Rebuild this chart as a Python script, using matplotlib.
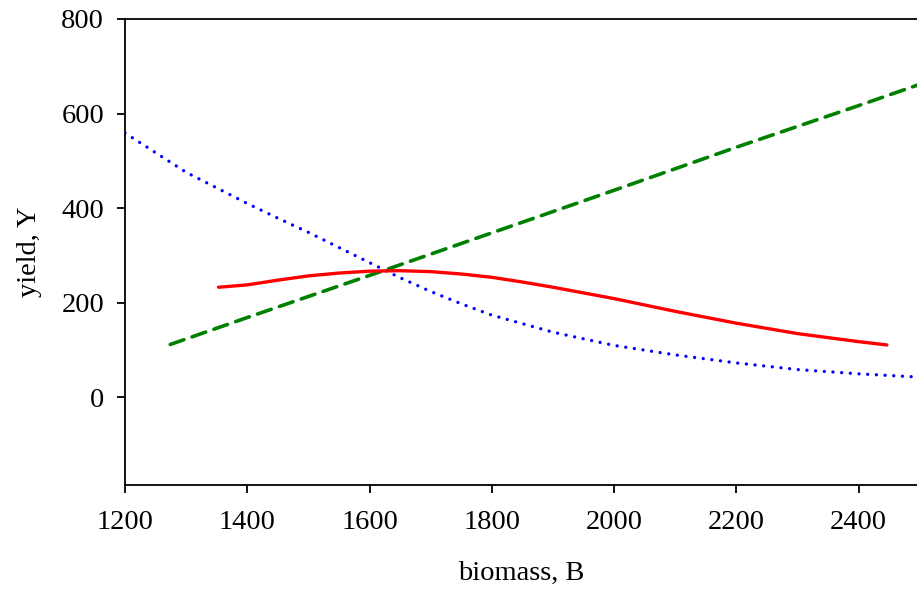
import matplotlib
matplotlib.use("Agg")
import matplotlib.pyplot as plt

# Data
green_B = [1274, 1400, 1600, 1800, 2000, 2200, 2400, 2520]
green_Y = [112, 169, 258, 348, 438, 529, 617, 671]

red_B = [1353, 1400, 1450, 1500, 1550, 1600, 1650, 1700, 1750, 1800, 1850, 1900,
         1950, 2000, 2100, 2200, 2300, 2400, 2446]
red_Y = [233, 238, 248, 257, 263, 267, 268, 266, 261, 254, 244, 233,
         221, 209, 182, 157, 135, 118, 111]

blue_B = [1200, 1300, 1400, 1450, 1500, 1550, 1600, 1650, 1700, 1750, 1800, 1900,
          2000, 2100, 2200, 2300, 2400, 2500]
blue_Y = [559, 476, 410, 379, 349, 317, 285, 253, 224, 198, 174, 138,
          110, 90, 73, 59, 50, 43]

x_ticks = [1200, 1400, 1600, 1800, 2000, 2200, 2400]
y_ticks = [0, 200, 400, 600, 800]

plt.rcParams['font.family'] = ['Liberation Serif', 'DejaVu Serif']

W, H = 917, 594
fig = plt.figure(figsize=(W / 100, H / 100), dpi=100)
left, right_px, top, bottom = 125, 981, 19, 485
aw, ah = right_px - left, bottom - top
ax = fig.add_axes([left / W, (H - bottom) / H, aw / W, ah / H])

ax.plot(blue_B, blue_Y, color='#0000ff', lw=2.4, linestyle=(0, (0.01, 2.6)),
        dash_capstyle='round')
ax.plot(green_B, green_Y, color='#008000', lw=2.6, linestyle=(0, (4.0, 2.4)),
        dash_capstyle='round')
ax.plot(red_B, red_Y, color='#ff0000', lw=2.4, solid_capstyle='round',
        solid_joinstyle='round')

ax.set_xlim(1200, 2600)
ax.set_ylim(-185, 800)
ax.set_xticks(x_ticks)
ax.set_yticks(y_ticks)
ax.tick_params(axis='both', direction='out', length=6, width=1.3, labelsize=20.5,
               colors='black', pad=9)
ax.tick_params(axis='x', pad=12)
for s in ax.spines.values():
    s.set_linewidth(1.3)
    s.set_color('black')

ax.set_xlabel('biomass, B', fontsize=20.5)
ax.xaxis.set_label_coords((521 - left) / aw, -(561 - bottom) / ah)
ax.set_ylabel('yield, Y', fontsize=20.5)
ax.yaxis.set_label_coords(-(125 - 42) / aw, 0.5)

fig.savefig('out.png', dpi=100)
